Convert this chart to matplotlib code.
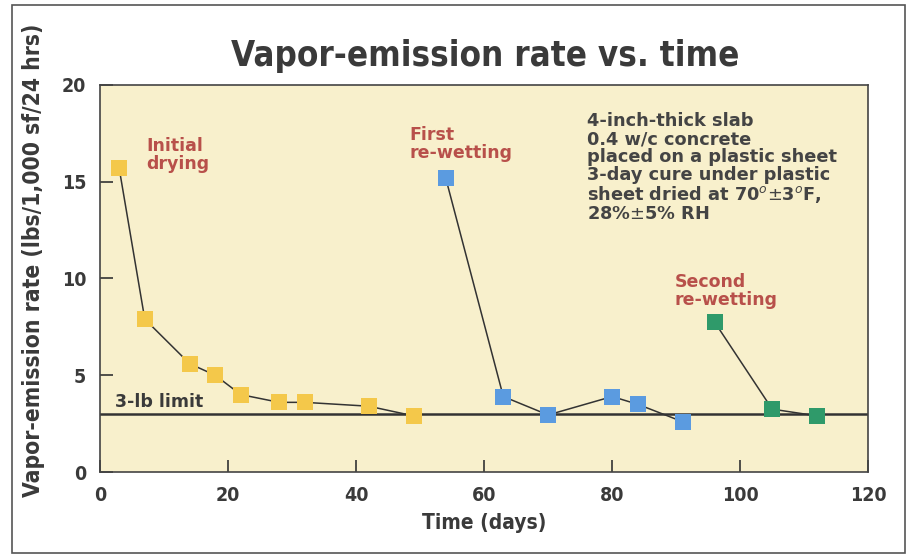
import matplotlib.pyplot as plt
from matplotlib.patches import Rectangle

# Datos
dias_secado = [3, 7, 14, 18, 22, 28, 32, 42, 49]
tasa_secado = [15.7, 7.9, 5.6, 5.0, 4.0, 3.6, 3.6, 3.4, 2.9]

dias_primer = [54, 63, 70, 80, 84, 91]
tasa_primer = [15.2, 3.9, 2.95, 3.9, 3.5, 2.6]

dias_segundo = [96, 105, 112]
tasa_segundo = [7.75, 3.25, 2.9]

limite = 3.0
xticks = [0, 20, 40, 60, 80, 100, 120]
yticks = [0, 5, 10, 15, 20]

gris = '#3a3a3a'
rojo = '#b8504a'

fig = plt.figure(figsize=(9.12, 5.59), dpi=100)
fig.patch.set_facecolor('white')
fig.patches.append(Rectangle((0.013, 0.011), 0.979, 0.98, transform=fig.transFigure,
                             fill=False, edgecolor='#555555', linewidth=1.2))

ax = fig.add_axes([0.1096, 0.1556, 0.8424, 0.6924])
ax.set_facecolor('#f8f0cc')

ax.axhline(limite, color='#333333', linewidth=1.8, zorder=1)

estilo = dict(color='#333333', linewidth=1.1, marker='s', markersize=11.5,
              markeredgewidth=0, zorder=3)
ax.plot(dias_secado, tasa_secado, markerfacecolor='#f4c84a', **estilo)
ax.plot(dias_primer, tasa_primer, markerfacecolor='#5b9be0', **estilo)
ax.plot(dias_segundo, tasa_segundo, markerfacecolor='#2f9a6a', **estilo)

ax.set_xlim(0, 120)
ax.set_ylim(0, 20)
ax.set_xticks(xticks)
ax.set_yticks(yticks)
ax.tick_params(direction='in', length=9, width=1.2, color='#333333',
               labelcolor=gris, labelsize=14, pad=10)
for lbl in ax.get_xticklabels() + ax.get_yticklabels():
    lbl.set_fontweight('bold')
    lbl.set_fontstretch('condensed')
for s in ax.spines.values():
    s.set_color('#444444')
    s.set_linewidth(1.2)

ax.set_xlabel('Time (days)', fontsize=15, fontweight='bold', color=gris,
              fontstretch='condensed', labelpad=6)
ax.set_ylabel('Vapor-emission rate (lbs/1,000 sf/24 hrs)', fontsize=16.4, fontweight='bold',
              color=gris, fontstretch='condensed')
ax.yaxis.set_label_coords(-0.071, 0.548)
fig.text(0.532, 0.9, 'Vapor-emission rate vs. time', ha='center', va='center',
         fontsize=25, fontweight='bold', color=gris, fontstretch='condensed')

anot = dict(fontsize=12.5, fontweight='bold', color=rojo, va='top', linespacing=1.0)
ax.text(7.2, 17.3, 'Initial\ndrying', **anot)
ax.text(48.3, 17.9, 'First\nre-wetting', **anot)
ax.text(89.8, 10.3, 'Second\nre-wetting', **anot)

ax.text(76, 18.6, '4-inch-thick slab\n0.4 w/c concrete\nplaced on a plastic sheet\n'
        '3-day cure under plastic\nsheet dried at 70$^o$$\\pm$3$^o$F,\n28%$\\pm$5% RH',
        fontsize=12.8, fontweight='bold', color='#444444', va='top', linespacing=1.0)
ax.text(2.3, 3.35, '3-lb limit', fontsize=12.5, fontweight='bold', color=gris)

fig.savefig('out.png', dpi=100)
